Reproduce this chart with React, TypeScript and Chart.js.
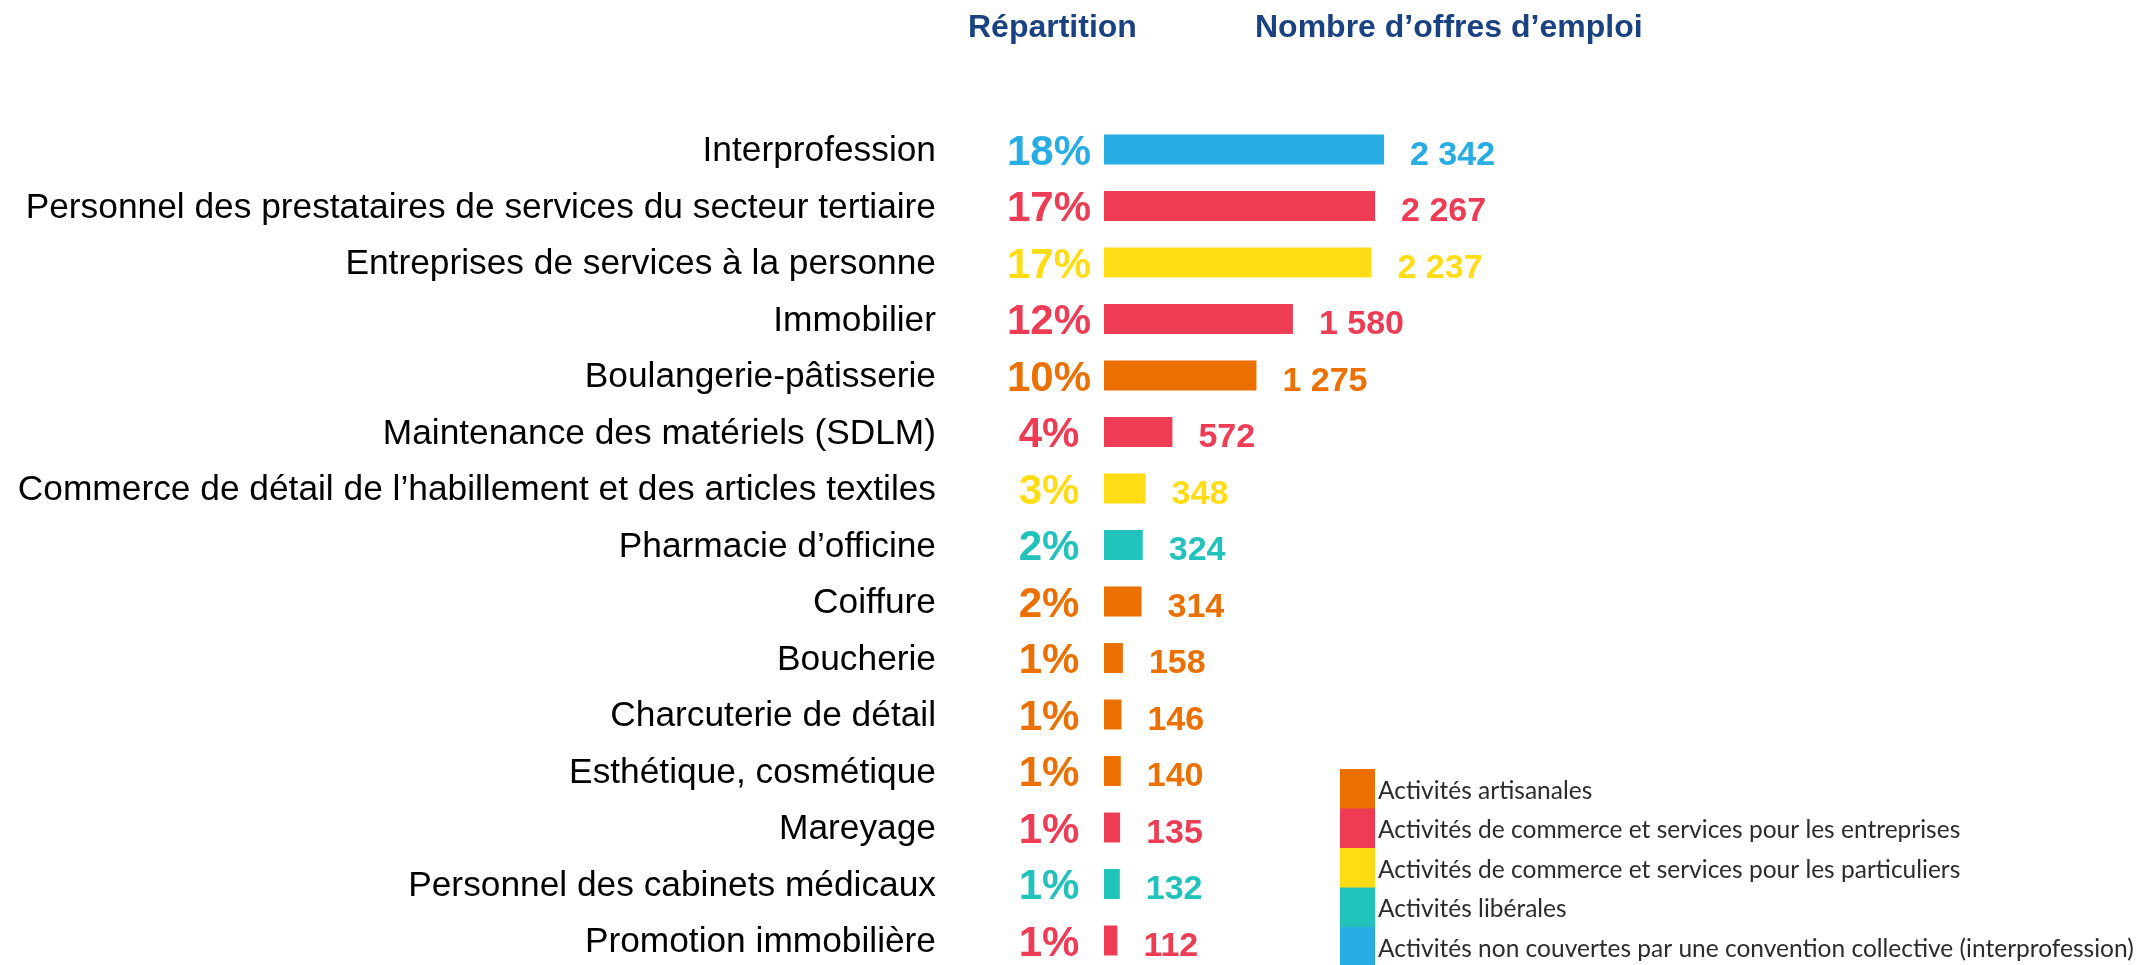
import React, { useEffect, useRef } from "react";
import { Chart, registerables } from "chart.js";

Chart.register(...registerables);

const categories = [
  "Interprofession",
  "Personnel des prestataires de services du secteur tertiaire",
  "Entreprises de services à la personne",
  "Immobilier",
  "Boulangerie-pâtisserie",
  "Maintenance des matériels (SDLM)",
  "Commerce de détail de l’habillement et des articles textiles",
  "Pharmacie d’officine",
  "Coiffure",
  "Boucherie",
  "Charcuterie de détail",
  "Esthétique, cosmétique",
  "Mareyage",
  "Personnel des cabinets médicaux",
  "Promotion immobilière",
];

const offers = [2342, 2267, 2237, 1580, 1275, 572, 348, 324, 314, 158, 146, 140, 135, 132, 112];
const shares = [18, 17, 17, 12, 10, 4, 3, 2, 2, 1, 1, 1, 1, 1, 1];
// index into groupLabels / groupColors
const groupOf = [4, 1, 2, 1, 0, 1, 2, 3, 0, 0, 0, 0, 1, 3, 1];

const groupLabels = [
  "Activités artisanales",
  "Activités de commerce et services pour les entreprises",
  "Activités de commerce et services pour les particuliers",
  "Activités libérales",
  "Activités non couvertes par une convention collective (interprofession)",
];
const groupColors = ["#EC7000", "#EE3C54", "#FFDC14", "#21C1BC", "#27ADE3"];

const headerLabels = ["Répartition", "Nombre d’offres d’emploi"];
const headerColor = "#1A4282";

const fmt = (n: number) => String(n).replace(/\B(?=(\d{3})+(?!\d))/g, " ");

const ARIAL = '"Liberation Sans", Arial, sans-serif';
const LEGEND_FONT = 'Lato, "Open Sans", sans-serif';

const labelsPlugin = {
  id: "customLabels",
  afterDatasetsDraw(chart: any) {
    const ctx = chart.ctx;
    const meta = chart.getDatasetMeta(0);
    const left = chart.chartArea.left;
    ctx.save();
    meta.data.forEach((bar: any, i: number) => {
      const { x, y } = bar.getProps(["x", "y"], true);
      const col = groupColors[groupOf[i]];
      ctx.fillStyle = col;
      ctx.textBaseline = "middle";
      ctx.font = `bold 42px ${ARIAL}`;
      ctx.textAlign = "center";
      ctx.fillText(shares[i] + "%", left - 55, y + 3.5);
      ctx.font = `bold 34px ${ARIAL}`;
      ctx.textAlign = "left";
      ctx.fillText(fmt(offers[i]), x + 26, y + 6);
    });

    // headers
    ctx.fillStyle = headerColor;
    ctx.font = `bold 32px ${ARIAL}`;
    ctx.textAlign = "left";
    ctx.textBaseline = "middle";
    ctx.fillText(headerLabels[0], left - 136, 28);
    ctx.fillText(headerLabels[1], left + 151, 28);

    // legend
    const lx = 1340;
    const ly = 769;
    const bh = 39.5;
    const bw = 35;
    groupLabels.forEach((lab, i) => {
      ctx.fillStyle = groupColors[i];
      ctx.fillRect(lx, ly + i * bh, bw, bh + 0.5);
      ctx.fillStyle = "#2b2b2b";
      ctx.font = `24.5px ${LEGEND_FONT}`;
      ctx.textAlign = "left";
      ctx.textBaseline = "middle";
      ctx.fillText(lab, lx + bw + 3, ly + i * bh + bh / 2 + 2);
    });
    ctx.restore();
  },
};

export default function App() {
  const ref = useRef<HTMLCanvasElement | null>(null);

  useEffect(() => {
    if (!ref.current) return;
    const chart = new Chart(ref.current, {
      type: "bar",
      data: {
        labels: categories,
        datasets: [
          {
            data: offers,
            backgroundColor: groupOf.map((g) => groupColors[g]),
            borderWidth: 0,
            barPercentage: 0.53,
            categoryPercentage: 1,
            clip: false as any,
          },
        ],
      },
      options: {
        indexAxis: "y",
        animation: false,
        responsive: false,
        maintainAspectRatio: false,
        layout: { padding: { top: 149.5, bottom: 24.5, left: 0, right: 0 } },
        plugins: {
          legend: { display: false },
          tooltip: { enabled: false },
          title: { display: false },
        },
        scales: {
          x: {
            display: false,
            min: 0,
            max: 8690,
          },
          y: {
            type: "category",
            offset: false,
            grid: { display: false, drawTicks: false },
            border: { display: false },
            ticks: {
              color: "#000000",
              font: { family: ARIAL, size: 35.3 },
              padding: 168,
              labelOffset: 2,
              autoSkip: false,
            },
            afterFit: (scale: any) => {
              scale.width = 1104;
              scale.paddingTop = 0;
              scale.paddingBottom = 0;
            },
          },
        },
      },
      plugins: [labelsPlugin],
    });
    return () => chart.destroy();
  }, []);

  return (
    <div style={{ position: "absolute", left: 0, top: 0, width: 2143, height: 965, background: "#fff" }}>
      <canvas ref={ref} width={2143} height={965} style={{ display: "block" }} />
    </div>
  );
}
